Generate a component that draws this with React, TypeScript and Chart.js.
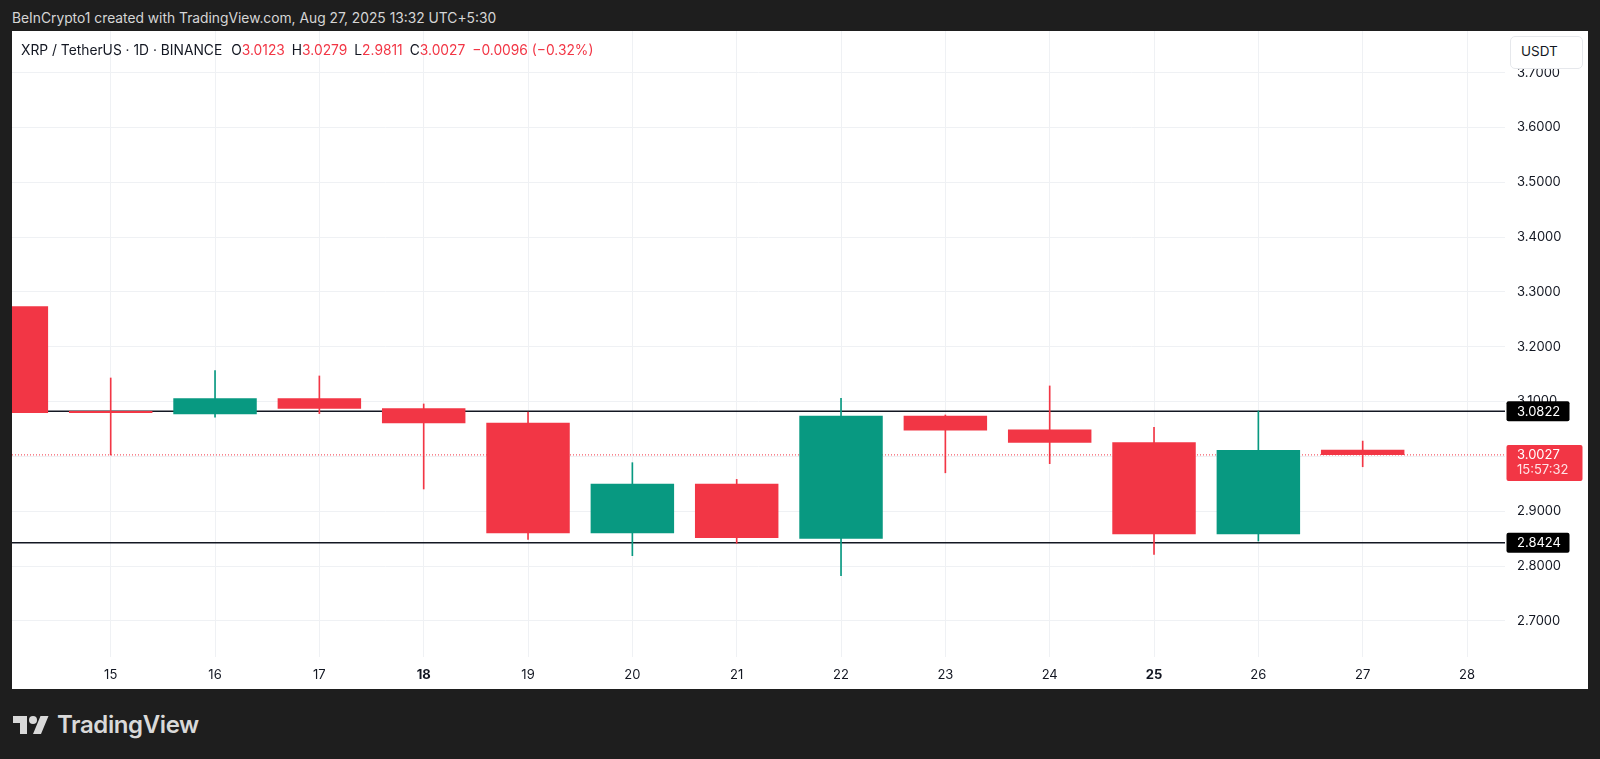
import React, { useEffect, useRef } from "react";
import { Chart, registerables } from "chart.js";

Chart.register(...registerables);

// ---- data ----
const days = [14, 15, 16, 17, 18, 19, 20, 21, 22, 23, 24, 25, 26, 27];
const opens = [3.274, 3.083, 3.077, 3.106, 3.0877, 3.0615, 2.8596, 2.95, 2.8498, 3.0743, 3.0488, 3.0257, 2.8578, 3.0123];
const highs = [3.274, 3.143, 3.1564, 3.1467, 3.0956, 3.081, 2.9885, 2.958, 3.106, 3.0755, 3.1285, 3.053, 3.0828, 3.0279];
const lows = [3.079, 3.0025, 3.0713, 3.078, 2.9405, 2.8487, 2.8188, 2.8414, 2.7823, 2.97, 2.9867, 2.8213, 2.8456, 2.9811];
const closes = [3.079, 3.079, 3.106, 3.087, 3.0604, 2.8596, 2.95, 2.851, 3.0743, 3.047, 3.025, 2.8578, 3.0117, 3.0027];
const boldDays = [18, 25];
const resistanceLevel = 3.0822;
const supportLevel = 2.8424;
const lastPrice = 3.0027;
const countdown = "15:57:32";
const xRange = [14.054, 28.364];
const yRange = [2.634, 3.776];

const UP = "#089981";
const DOWN = "#F23645";
const TEXT = "#131722";
const GRID = "#eff1f4";
const FONT = "Inter, 'Noto Sans', sans-serif";

const priceLabelPlugin = {
  id: "priceLabels",
  afterDraw(chart: any) {
    const { ctx, chartArea, scales } = chart;
    const ys = scales.y;
    const x0 = chartArea.right + 1.5;
    ctx.save();
    ctx.font = `13px ${FONT}`;
    ctx.textBaseline = "middle";
    ctx.textAlign = "left";
    const box = (val: number) => {
      const py = ys.getPixelForValue(val);
      ctx.fillStyle = "#000000";
      ctx.beginPath();
      ctx.roundRect(x0, py - 10, 63, 20, 2);
      ctx.fill();
      ctx.fillStyle = "#ffffff";
      ctx.fillText(val.toFixed(4), x0 + 10.5, py + 0.5);
    };
    box(resistanceLevel);
    box(supportLevel);
    const py = ys.getPixelForValue(lastPrice);
    ctx.fillStyle = DOWN;
    ctx.beginPath();
    ctx.roundRect(x0, py - 10, 76, 36, 2);
    ctx.fill();
    ctx.fillStyle = "#ffffff";
    ctx.fillText(lastPrice.toFixed(4), x0 + 10.5, py + 0.5);
    ctx.fillStyle = "#ffe3e6";
    ctx.fillText(countdown, x0 + 10.5, py + 15.5);
    ctx.restore();
  },
};

export default function App() {
  const ref = useRef<HTMLCanvasElement>(null);

  useEffect(() => {
    document.body.style.margin = "0";
    const colors = days.map((_, i) => (closes[i] >= opens[i] ? UP : DOWN));
    const hLine = (v: number) => [
      { x: xRange[0], y: v },
      { x: xRange[1], y: v },
    ];
    const chart = new Chart(ref.current as HTMLCanvasElement, {
      type: "bar",
      data: {
        datasets: [
          {
            type: "bar",
            label: "body",
            data: days.map((d, i) => ({ x: d, y: [opens[i], closes[i]] })) as any,
            backgroundColor: colors,
            barPercentage: 0.8,
            categoryPercentage: 1,
            grouped: false,
            order: 0,
          } as any,
          {
            type: "bar",
            label: "wick",
            data: days.map((d, i) => ({ x: d, y: [lows[i], highs[i]] })) as any,
            backgroundColor: colors,
            barThickness: 1,
            grouped: false,
            order: 1,
          } as any,
          {
            type: "line",
            label: "resistance",
            data: hLine(resistanceLevel) as any,
            borderColor: TEXT,
            borderWidth: 1.5,
            pointRadius: 0,
            order: 3,
          } as any,
          {
            type: "line",
            label: "support",
            data: hLine(supportLevel) as any,
            borderColor: TEXT,
            borderWidth: 1.5,
            pointRadius: 0,
            order: 3,
          } as any,
          {
            type: "line",
            label: "last",
            data: hLine(lastPrice) as any,
            borderColor: DOWN,
            borderWidth: 1,
            borderDash: [1, 2],
            pointRadius: 0,
            order: 3,
          } as any,
        ],
      },
      options: {
        animation: false,
        responsive: true,
        maintainAspectRatio: false,
        layout: { padding: 0 },
        plugins: { legend: { display: false }, tooltip: { enabled: false } },
        scales: {
          x: {
            type: "linear",
            min: xRange[0],
            max: xRange[1],
            offset: false,
            afterFit: (s: any) => {
              s.height = 32;
              s.paddingLeft = 0;
              s.paddingRight = 0;
            },
            grid: { color: GRID, drawTicks: false, offset: false },
            border: { display: false },
            ticks: {
              stepSize: 1,
              includeBounds: false,
              autoSkip: false,
              maxRotation: 0,
              padding: 10,
              color: TEXT,
              font: (c: any) => ({
                family: FONT,
                size: 13,
                weight: boldDays.includes(c.tick?.value) ? "bold" : "normal",
              }),
              callback: (v: any) => String(v),
            },
          },
          y: {
            type: "linear",
            position: "right",
            min: yRange[0],
            max: yRange[1],
            afterFit: (s: any) => {
              s.width = 83;
              s.paddingTop = 0;
              s.paddingBottom = 0;
            },
            grid: { color: GRID, drawTicks: false },
            border: { display: false },
            ticks: {
              stepSize: 0.1,
              includeBounds: false,
              padding: 12,
              color: TEXT,
              font: { family: FONT, size: 13 },
              callback: (v: any) => Number(v).toFixed(4),
            },
          },
        },
      } as any,
      plugins: [priceLabelPlugin],
    });
    return () => chart.destroy();
  }, []);

  const red = { color: DOWN };
  return (
    <div
      style={{
        position: "absolute",
        left: 0,
        top: 0,
        width: 1600,
        height: 759,
        background: "#1e1e1e",
        fontFamily: FONT,
        overflow: "hidden",
      }}
    >
      <div
        style={{
          position: "absolute",
          left: 12,
          top: 8,
          fontSize: 13.8,
          lineHeight: "20px",
          color: "#d6d6d6",
          whiteSpace: "nowrap",
        }}
      >
        BeInCrypto1 created with TradingView.com, Aug 27, 2025 13:32 UTC+5:30
      </div>
      <div
        style={{
          position: "absolute",
          left: 12,
          top: 31,
          width: 1576,
          height: 658,
          background: "#ffffff",
          overflow: "hidden",
        }}
      >
        <canvas ref={ref} style={{ display: "block" }} />
      </div>
      <div
        style={{
          position: "absolute",
          left: 21,
          top: 40,
          fontSize: 13.8,
          lineHeight: "20px",
          color: TEXT,
          whiteSpace: "nowrap",
        }}
      >
        <span>XRP / TetherUS · 1D · BINANCE</span>
        <span style={{ marginLeft: 9 }}>O</span>
        <span style={red}>3.0123</span>
        <span style={{ marginLeft: 7 }}>H</span>
        <span style={red}>3.0279</span>
        <span style={{ marginLeft: 7 }}>L</span>
        <span style={red}>2.9811</span>
        <span style={{ marginLeft: 7 }}>C</span>
        <span style={red}>3.0027</span>
        <span style={{ ...red, marginLeft: 7 }}>−0.0096 (−0.32%)</span>
      </div>
      <div
        style={{
          position: "absolute",
          left: 1510,
          top: 36,
          width: 73,
          height: 33,
          border: "1px solid #e6e8ec",
          borderRadius: 5,
          background: "#ffffff",
          fontSize: 13.5,
          lineHeight: "29px",
          color: TEXT,
          paddingLeft: 10,
          boxSizing: "border-box",
        }}
      >
        USDT
      </div>
      <svg
        style={{ position: "absolute", left: 13, top: 712 }}
        width={36}
        height={28}
        viewBox="0 0 36 28"
      >
        <path d="M14 22H7V11H0V4h14v18ZM28 22h-8l7.5-18h8L28 22Z" fill="#d9d9d9" />
        <circle cx="20" cy="8" r="4" fill="#d9d9d9" />
      </svg>
      <div
        style={{
          position: "absolute",
          left: 57,
          top: 710,
          fontSize: 24,
          fontWeight: 600,
          lineHeight: "30px",
          color: "#d9d9d9",
          letterSpacing: -0.4,
          whiteSpace: "nowrap",
        }}
      >
        TradingView
      </div>
    </div>
  );
}
